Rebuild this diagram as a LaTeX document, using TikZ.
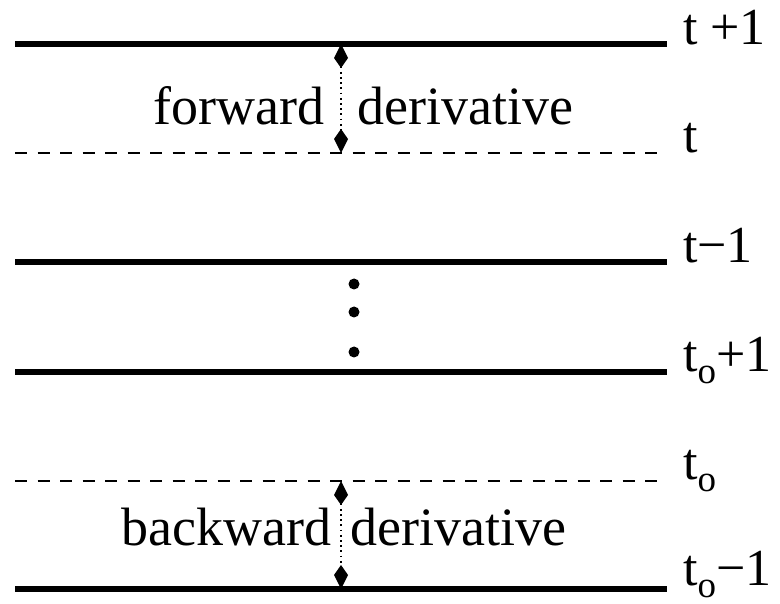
\documentclass[tikz,border=0pt]{standalone}
\usepackage{fontspec}
\setmainfont{Liberation Serif}
\usetikzlibrary{arrows.meta}
\newcommand\subo{\raisebox{-12pt}{\fontsize{37}{40}\selectfont o}}
\begin{document}
\begin{tikzpicture}[x=1pt,y=-1pt,
  heavy/.style={line width=5.5pt},
  light/.style={line width=1.2pt, dash pattern=on 12pt off 10.5pt},
  gaparrow/.style={line width=1.6pt, dash pattern=on 1.8pt off 3.4pt,
    {Kite[length=24pt,width=14pt,inset=10pt]}-{Kite[length=24pt,width=14pt,inset=10pt]}},
  lbl/.style={inner sep=0pt, font=\fontsize{52}{60}\selectfont},
  txt/.style={inner sep=0pt, font=\fontsize{54}{60}\selectfont},
  dotmark/.style={circle, fill, inner sep=0pt, minimum size=11pt}]
\useasboundingbox (0,0) rectangle (780,604);

% level lines
\coordinate (A1) at (15,44);  \coordinate (B1) at (667,44);
\coordinate (A2) at (15,153); \coordinate (B2) at (657,153);
\coordinate (A3) at (15,262); \coordinate (B3) at (667,262);
\coordinate (A4) at (15,372); \coordinate (B4) at (667,372);
\coordinate (A5) at (15,481); \coordinate (B5) at (657,481);
\coordinate (A6) at (15,589); \coordinate (B6) at (667,589);

\draw[heavy] (A1) -- (B1);
\draw[light] (A2) -- (B2);
\draw[heavy] (A3) -- (B3);
\draw[heavy] (A4) -- (B4);
\draw[light] (A5) -- (B5);
\draw[heavy] (A6) -- (B6);

% right labels
\node[lbl, anchor=base west] (l1) at (683,45) {t +1};
\node[lbl, anchor=base west] (l2) at (683,153) {t};
\node[lbl, anchor=base west] (l3) at (683,263) {t−1};
\node[lbl, anchor=base west] (l4) at (683,372) {t\subo+1};
\node[lbl, anchor=base west] (l5) at (683,479) {t\subo};
\node[lbl, anchor=base west] (l6) at (683,585) {t\subo−1};

% forward derivative
\coordinate (F1) at (341,44);
\coordinate (F2) at (341,153);
\draw[gaparrow] (F1) -- (F2);
\node[txt, anchor=base east] (fw) at (325,125) {forward};
\node[txt, anchor=base west] (fd) at (357,125) {derivative};

% dots
\node[dotmark] (d1) at (354,284) {};
\node[dotmark] (d2) at (354,312) {};
\node[dotmark] (d3) at (354,352) {};

% backward derivative
\coordinate (G1) at (341,481);
\coordinate (G2) at (341,589);
\draw[gaparrow] (G1) -- (G2);
\node[txt, anchor=base east] (bw) at (332,545) {backward};
\node[txt, anchor=base west] (bd) at (350,545) {derivative};
\end{tikzpicture}
\end{document}
